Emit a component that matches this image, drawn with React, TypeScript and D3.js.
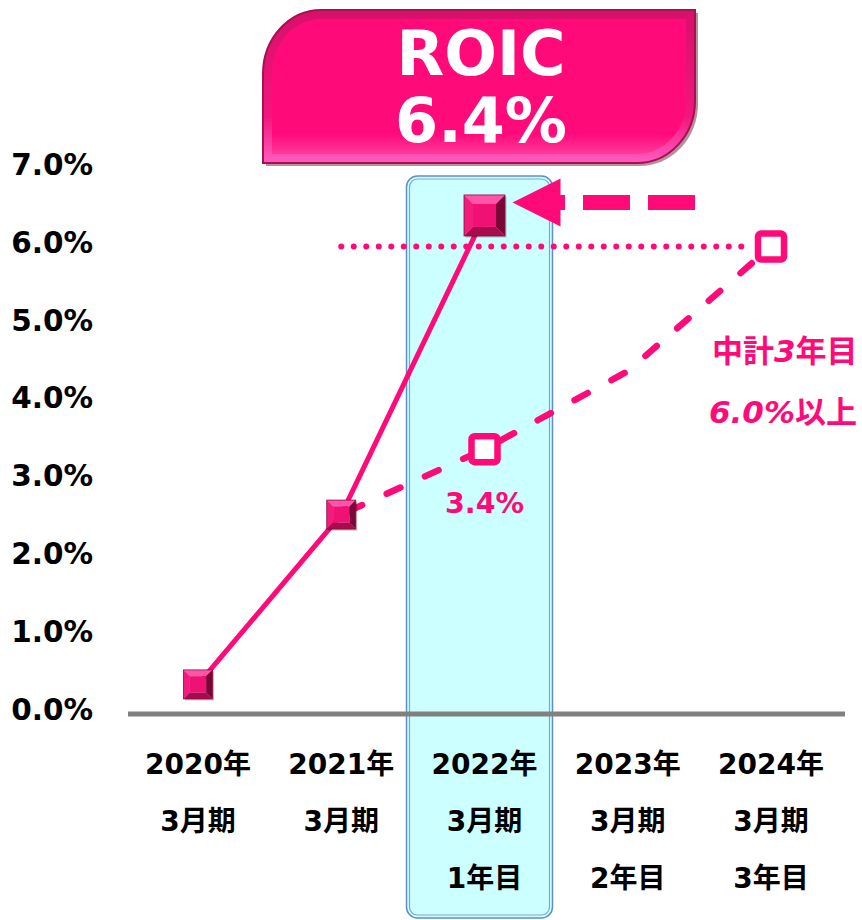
import React from "react";
import * as d3 from "d3";

const categories = ["2020年", "2021年", "2022年", "2023年", "2024年"];
const periodLabels = ["3月期", "3月期", "3月期", "3月期", "3月期"];
const planYearLabels = ["", "", "1年目", "2年目", "3年目"];
const actualValues: (number | null)[] = [0.38, 2.56, 6.4, null, null];
const planValues: (number | null)[] = [null, 2.56, 3.4, 4.4, 6.0];
const yTicks = [0, 1, 2, 3, 4, 5, 6, 7];
const targetValue = 6.0;
const highlightCategory = "2022年";
const bannerTitle = "ROIC";
const bannerValue = "6.4%";
const planLabel = "3.4%";
const targetLine1 = ["中計", "3", "年目"];
const targetLine2 = ["6.0%", "以上"];

const PINK = "#ff0a78";
const FONT = "'DejaVu Sans', 'Noto Sans CJK JP', sans-serif";

function Bevel({ cx, cy, s }: { cx: number; cy: number; s: number }) {
  const h = s / 2;
  const i = s * 0.22;
  const x0 = cx - h, x1 = cx + h, y0 = cy - h, y1 = cy + h;
  const a = x0 + i, b = x1 - i, c = y0 + i, d = y1 - i;
  const p = (pts: number[][]) => pts.map((q) => q.join(",")).join(" ");
  return (
    <g>
      <rect x={x0 + 1.5} y={y0 + 1.5} width={s} height={s} fill="#000" opacity={0.25} />
      <polygon points={p([[x0, y0], [x1, y0], [b, c], [a, c]])} fill="#ff55a8" />
      <polygon points={p([[x0, y0], [a, c], [a, d], [x0, y1]])} fill="#f21c7c" />
      <polygon points={p([[x1, y0], [x1, y1], [b, d], [b, c]])} fill="#7a0636" />
      <polygon points={p([[x0, y1], [x1, y1], [b, d], [a, d]])} fill="#a80b4e" />
      <rect x={a} y={c} width={b - a} height={d - c} fill="#ef1274" />
      <rect x={x0} y={y0} width={s} height={s} fill="none" stroke="#8a0a40" strokeWidth={0.8} />
    </g>
  );
}

export default function App() {
  const x = d3.scalePoint<string>().domain(categories).range([198, 771]).padding(0);
  const y = d3.scaleLinear().domain([0, 7]).range([714, 168.7]);
  const fmt = (v: number) => d3.format(".1f")(v) + "%";

  const actualPts = categories
    .map((c, i) => [x(c)!, actualValues[i]] as [number, number | null])
    .filter((d) => d[1] !== null) as [number, number][];
  const planPts = categories
    .map((c, i) => [x(c)!, planValues[i], i] as [number, number | null, number])
    .filter((d) => d[1] !== null) as [number, number, number][];
  const line = d3.line<[number, number, number?]>().x((d) => d[0]).y((d) => y(d[1]));

  const hx = x(highlightCategory)!;
  const hIdx = categories.indexOf(highlightCategory);
  const lastX = x(categories[categories.length - 1])!;

  const bx0 = 263, bx1 = 695, by0 = 10, by1 = 163;
  const banner = `M${bx0},${by0 + 64} A58,64 0 0 1 ${bx0 + 58},${by0} L${bx1},${by0} L${bx1},${by1 - 62} A58,62 0 0 1 ${bx1 - 58},${by1} L${bx0},${by1} Z`;
  const ins = 9;
  const bannerInner = `M${bx0 + ins},${by0 + 64} A${58 - ins},${64 - ins} 0 0 1 ${bx0 + 58},${by0 + ins} L${bx1 - ins},${by0 + ins} L${bx1 - ins},${by1 - 62} A${58 - ins},${62 - ins} 0 0 1 ${bx1 - 58},${by1 - ins} L${bx0 + ins},${by1 - ins} Z`;

  const arrowY = y(actualValues[hIdx]!) - 13;
  const arrowTip = hx + 28;

  return (
    <div style={{ position: "absolute", left: 0, top: 0 }}>
      <svg width={862} height={920} style={{ display: "block" }} fontFamily={FONT}>
        <defs>
          <linearGradient id="bnr" x1="0" y1="0" x2="0" y2="1">
            <stop offset="0" stopColor="#d8106a" />
            <stop offset="0.7" stopColor="#f3167c" />
            <stop offset="1" stopColor="#ff5cc0" />
          </linearGradient>
          <linearGradient id="bnrIn" x1="0" y1="0" x2="0" y2="1">
            <stop offset="0" stopColor="#ff0a78" />
            <stop offset="0.85" stopColor="#ff0a7a" />
            <stop offset="1" stopColor="#ff3a9a" />
          </linearGradient>
        </defs>

        <rect x={hx - 78} y={176} width={146} height={742} rx={11} fill="#ccffff" stroke="#5f8fc8" strokeWidth={1.5} />
        <rect x={hx - 75} y={179} width={140} height={736} rx={8} fill="none" stroke="#7aa6dc" strokeWidth={1.2} />

        <path d={banner} transform="translate(3,3)" fill="#5a0a2a" opacity={0.45} />
        <path d={banner} fill="url(#bnr)" stroke="#a8104f" strokeWidth={2} />
        <path d={bannerInner} fill="url(#bnrIn)" />
        <text x={481} y={75} textAnchor="middle" fill="#fff" fontSize={62} fontWeight="bold">{bannerTitle}</text>
        <text x={481} y={142} textAnchor="middle" fill="#fff" fontSize={62} fontWeight="bold">{bannerValue}</text>

        {yTicks.map((t) => (
          <text key={t} x={93} y={y(t) + 6} textAnchor="end" fontSize={29.5} fontWeight="bold" fill="#000">
            {fmt(t)}
          </text>
        ))}

        <line x1={128} x2={845} y1={y(0)} y2={y(0)} stroke="#808080" strokeWidth={5} />
        {categories.map((c, i) => (
          <g key={c}>
            <text x={x(c)!} y={774} textAnchor="middle" fontSize={28} fontWeight="bold" fill="#000">{c}</text>
            <text x={x(c)!} y={831} textAnchor="middle" fontSize={28} fontWeight="bold" fill="#000">{periodLabels[i]}</text>
            {planYearLabels[i] && (
              <text x={x(c)!} y={888} textAnchor="middle" fontSize={28} fontWeight="bold" fill="#000">{planYearLabels[i]}</text>
            )}
          </g>
        ))}

        <line x1={x(categories[1])!} x2={lastX - 18} y1={y(targetValue)} y2={y(targetValue)} stroke={PINK} strokeWidth={6} strokeDasharray="0 12.5" strokeLinecap="round" />

        <path d={line(planPts)!} fill="none" stroke={PINK} strokeWidth={6.5} strokeDasharray="15 27" strokeDashoffset={-8} strokeLinecap="round" />

        <path d={line(actualPts as any)!} fill="none" stroke={PINK} strokeWidth={5} />

        {planPts
          .filter((d) => d[2] === hIdx || d[2] === categories.length - 1)
          .map((d) => (
            <rect key={d[2]} x={d[0] - 13} y={y(d[1]) - 13} width={26} height={26} rx={3} fill="#fff" stroke={PINK} strokeWidth={6.5} />
          ))}

        {actualPts.map((d, i) => (
          <Bevel key={i} cx={d[0]} cy={y(d[1])} s={i === hIdx ? 41 : 29} />
        ))}

        <line x1={695} x2={arrowTip + 36} y1={arrowY} y2={arrowY} stroke={PINK} strokeWidth={15} strokeDasharray="47 18" />
        <polygon points={`${arrowTip},${arrowY} ${arrowTip + 48},${arrowY - 24} ${arrowTip + 48},${arrowY + 24}`} fill={PINK} />

        <text x={hx} y={513} textAnchor="middle" fontSize={28.5} fontWeight="bold" fill={PINK}>{planLabel}</text>
        <text x={712} y={362} fontSize={31} fontWeight="bold" fill={PINK}>
          <tspan>{targetLine1[0]}</tspan>
          <tspan fontStyle="italic">{targetLine1[1]}</tspan>
          <tspan>{targetLine1[2]}</tspan>
        </text>
        <text x={709} y={423} fontSize={31} fontWeight="bold" fill={PINK}>
          <tspan fontStyle="italic">{targetLine2[0]}</tspan>
          <tspan>{targetLine2[1]}</tspan>
        </text>
      </svg>
    </div>
  );
}
